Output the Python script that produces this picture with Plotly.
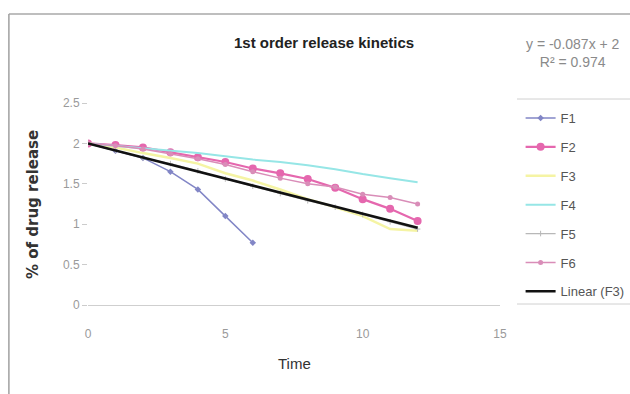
import numpy as np
import plotly.graph_objects as go

# ---- data ----
time_f1 = [0, 1, 2, 3, 4, 5, 6]
f1 = [2.00, 1.91, 1.82, 1.65, 1.43, 1.10, 0.77]

time = [0, 1, 2, 3, 4, 5, 6, 7, 8, 9, 10, 11, 12]
f2 = [2.00, 1.98, 1.95, 1.89, 1.83, 1.77, 1.69, 1.63, 1.56, 1.45, 1.31, 1.19, 1.04]
f3 = [2.00, 1.95, 1.88, 1.82, 1.75, 1.63, 1.54, 1.43, 1.31, 1.21, 1.10, 0.94, 0.92]
f4 = [2.00, 1.97, 1.94, 1.91, 1.88, 1.84, 1.80, 1.77, 1.73, 1.68, 1.62, 1.57, 1.52]
f5 = [2.00, 1.91, 1.82, 1.75, 1.66, 1.56, 1.47, 1.38, 1.29, 1.21, 1.12, 1.03, 0.94]
f6 = [2.00, 1.97, 1.93, 1.87, 1.81, 1.74, 1.65, 1.57, 1.50, 1.46, 1.37, 1.33, 1.25]

trend_slope = -0.087
trend_intercept = 2.0
r_squared = 0.974

x_ticks = [0, 5, 10, 15]
y_ticks = [0, 0.5, 1, 1.5, 2, 2.5]
y_tick_labels = ["0", "0.5", "1", "1.5", "2", "2.5"]

title_text = "1st order release kinetics"
x_title = "Time"
y_title = "% of drug release"

# ---- figure ----
fig = go.Figure()

def add(name, x, y, color, width, symbol=None, size=0, group=None):
    mode = "lines+markers" if symbol else "lines"
    fig.add_trace(go.Scatter(
        x=x, y=y, name=name, mode=mode, legendgroup=group or name,
        line=dict(color=color, width=width),
        marker=dict(symbol=symbol or "circle", size=size, color=color),
    ))

add("F1", time_f1, f1, "#8286C6", 1.5, "diamond", 5)
add("F2", time, f2, "#E567AE", 2.2, "circle", 8)
add("F3", time, f3, "#F5F4A4", 2.5)
add("F4", time, f4, "#96E6E6", 2)
add("F5", time, f5, "#B8B8B8", 1.2, "cross-thin-open", 4)
add("F6", time, f6, "#D98DB8", 1.5, "circle", 5)

tx = np.array(time, dtype=float)
fig.add_trace(go.Scatter(
    x=tx, y=trend_slope * tx + trend_intercept, name="Linear (F3)",
    mode="lines", legendgroup="lin", line=dict(color="#111111", width=2.5),
))

grey_txt = "#9A9A9A"
fig.update_layout(
    width=630, height=394,
    margin=dict(l=88, r=130, t=103, b=89, autoexpand=False),
    paper_bgcolor="white", plot_bgcolor="white",
    font=dict(family="Liberation Sans, Arial, sans-serif", size=12, color=grey_txt),
    title=dict(text="<b>" + title_text + "</b>", x=0.573, xref="paper", xanchor="center",
               y=1 - 43 / 394, yref="container", yanchor="middle",
               font=dict(size=15, color="#222222")),
    showlegend=True,
    legend=dict(x=1.05, xanchor="left", y=1.0, yanchor="top", maxheight=300,
                tracegroupgap=9, font=dict(size=13, color="#555555"),
                bgcolor="rgba(0,0,0,0)", itemwidth=30),
    xaxis=dict(range=[0, 15], tickvals=x_ticks, showgrid=False, zeroline=False,
               showline=True, linecolor="#CFCFCF", linewidth=1, ticks="",
               ticklabelstandoff=18, tickfont=dict(color=grey_txt, size=12)),
    yaxis=dict(range=[0, 2.5], tickvals=y_ticks, ticktext=y_tick_labels, showgrid=False,
               zeroline=False, showline=False, ticks="outside", ticklen=5,
               tickcolor="#CCCCCC", tickfont=dict(color=grey_txt, size=12)),
)

fig.add_annotation(text="<b>" + y_title + "</b>", xref="paper", yref="paper",
                   x=-0.1335, y=0.5, textangle=-90, showarrow=False,
                   xanchor="center", yanchor="middle",
                   font=dict(family="DejaVu Sans", size=15, color="#333333"))
fig.add_annotation(text=x_title, xref="paper", yref="paper",
                   x=0.5, y=(305 - 363) / 202, showarrow=False,
                   xanchor="center", yanchor="middle",
                   font=dict(size=15, color="#333333"))
fig.add_annotation(text="y = %.3fx + %g<br>R² = %.3f" % (trend_slope, trend_intercept, r_squared),
                   xref="paper", yref="paper", x=(573 - 88) / 412, y=(305 - 53) / 202,
                   xanchor="center", yanchor="middle",
                   showarrow=False, align="center", font=dict(size=14, color="#8A8A8A"))

# chart-area border (top and left) and legend separators
fig.add_shape(type="line", xref="paper", yref="paper", x0=-0.192, x1=1.35,
              y0=(305 - 14) / 202, y1=(305 - 14) / 202, line=dict(color="#A8A8A8", width=1.5))
fig.add_shape(type="line", xref="paper", yref="paper", x0=-0.192, x1=-0.192,
              y0=(305 - 14) / 202, y1=-0.5, line=dict(color="#A0A0A0", width=1.5))
fig.add_shape(type="line", xref="paper", yref="paper", x0=(517 - 88) / 412, x1=1.34,
              y0=(305 - 99) / 202, y1=(305 - 99) / 202, line=dict(color="#D0D0D0", width=1))
fig.add_shape(type="line", xref="paper", yref="paper", x0=(517 - 88) / 412, x1=1.34,
              y0=(305 - 304) / 202, y1=(305 - 304) / 202, line=dict(color="#D0D0D0", width=1))

fig.write_html("out.html")
